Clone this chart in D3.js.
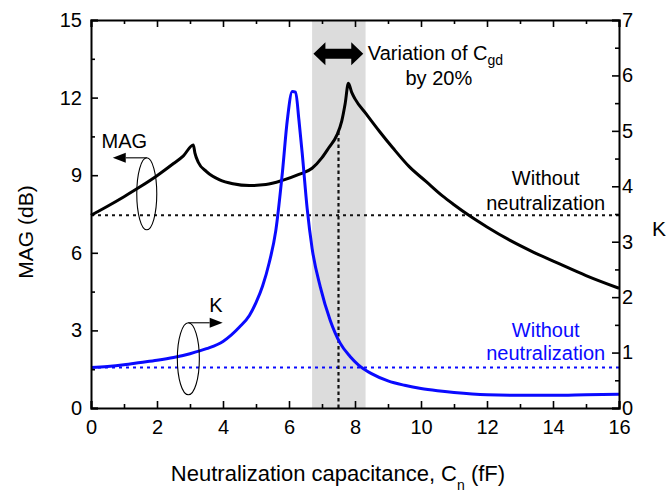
<!DOCTYPE html>
<html>
<head>
<meta charset="utf-8">
<script src="https://cdn.jsdelivr.net/npm/d3@7"></script>
<style>
  html, body { margin: 0; padding: 0; background: #fff; }
  svg { display: block; font-family: "Liberation Sans", Arial, sans-serif; }
</style>
</head>
<body>
<svg id="chart" width="666" height="493"></svg>
<script>
// Neutralization capacitance sweep (fF)
const cnMag = [0, 0.5, 1, 1.5, 2, 2.5, 2.8, 3.1, 3.15, 3.25, 3.5, 3.9, 4.3, 4.8, 5.3, 5.8, 6.3, 6.7, 7.0, 7.2, 7.45, 7.6, 7.7, 7.8,
               7.9, 8.0, 8.35, 8.75, 9.15, 9.65, 10.15, 10.65, 11.0, 11.45, 12.0, 12.7, 13.4, 14.2, 15.0, 16];
const magDb = [7.45, 7.8, 8.17, 8.56, 8.98, 9.45, 9.75, 10.17, 9.85, 9.5, 9.14, 8.82, 8.67, 8.6, 8.64, 8.8, 9.03, 9.27, 9.68, 10.05, 10.55, 11.1, 11.75, 12.55,
               12.2, 11.95, 11.35, 10.68, 10.05, 9.32, 8.76, 8.2, 7.86, 7.45, 7.0, 6.48, 6.03, 5.57, 5.12, 4.63];

const cnK = [0, 0.5, 1, 1.5, 2, 2.5, 3, 3.5, 4, 4.5, 4.8, 5.0, 5.2, 5.4, 5.6, 5.8, 5.95, 6.1, 6.2, 6.3, 6.4, 6.55, 6.7, 6.95,
             7.25, 7.55, 7.85, 8.1, 8.5, 9.0, 9.5, 10, 10.5, 11, 12, 13, 14, 15, 16];
const kFactor = [0.73, 0.75, 0.78, 0.82, 0.86, 0.91, 0.98, 1.07, 1.2, 1.46, 1.67, 1.9, 2.2, 2.62, 3.2, 4.25, 5.2, 5.71, 5.7, 5.2, 4.6, 3.6, 2.88, 2.18,
                 1.58, 1.17, 0.93, 0.78, 0.62, 0.49, 0.41, 0.35, 0.31, 0.28, 0.24, 0.23, 0.23, 0.24, 0.25];

// Reference levels without neutralization
const magWithout = 7.45;
const kWithout = 0.73;

// Cgd +/-20% range and the chosen Cn
const cgdBand = [6.7, 8.32];
const cnChosen = 7.5;

// Tick values
const xMajor = [0, 2, 4, 6, 8, 10, 12, 14, 16];
const xMinor = [1, 3, 5, 7, 9, 11, 13, 15];
const magMajor = [0, 3, 6, 9, 12, 15];
const magMinor = [1.5, 4.5, 7.5, 10.5, 13.5];
const kMajor = [0, 1, 2, 3, 4, 5, 6, 7];
const kMinor = [0.5, 1.5, 2.5, 3.5, 4.5, 5.5, 6.5];

const svg = d3.select("#chart");
const L = 91, R = 619, T = 20, B = 408;

const x = d3.scaleLinear().domain([0, 16]).range([L, R]);
const yMag = d3.scaleLinear().domain([0, 15]).range([B, T]);
const yK = d3.scaleLinear().domain([0, 7]).range([B, T]);

const blue = "#0a0aff";
const fontTick = 20;

// shaded Cgd variation band
svg.append("rect")
  .attr("x", x(cgdBand[0])).attr("y", T)
  .attr("width", x(cgdBand[1]) - x(cgdBand[0])).attr("height", B - T)
  .attr("fill", "#dcdcdc");

// reference dotted lines
svg.append("line")
  .attr("x1", x(0)).attr("x2", x(16))
  .attr("y1", yMag(magWithout)).attr("y2", yMag(magWithout))
  .attr("stroke", "#111").attr("stroke-width", 2).attr("stroke-dasharray", "3,4");
svg.append("line")
  .attr("x1", x(0)).attr("x2", x(16))
  .attr("y1", yK(kWithout)).attr("y2", yK(kWithout))
  .attr("stroke", blue).attr("stroke-width", 2).attr("stroke-dasharray", "3,4");

// vertical marker at the chosen Cn, up to the MAG curve
const magAtChosen = d3.scaleLinear().domain(cnMag).range(magDb)(cnChosen);
svg.append("line")
  .attr("x1", x(cnChosen)).attr("x2", x(cnChosen))
  .attr("y1", yK(0)).attr("y2", yMag(magAtChosen))
  .attr("stroke", "#111").attr("stroke-width", 2.2).attr("stroke-dasharray", "3.5,3");

// curves
const magLine = d3.line().x(d => x(d[0])).y(d => yMag(d[1])).curve(d3.curveMonotoneX);
const kLine = d3.line().x(d => x(d[0])).y(d => yK(d[1])).curve(d3.curveMonotoneX);

svg.append("path")
  .datum(d3.zip(cnMag, magDb))
  .attr("d", magLine)
  .attr("fill", "none").attr("stroke", "#000").attr("stroke-width", 3)
  .attr("stroke-linejoin", "round");

svg.append("path")
  .datum(d3.zip(cnK, kFactor))
  .attr("d", kLine)
  .attr("fill", "none").attr("stroke", blue).attr("stroke-width", 3)
  .attr("stroke-linejoin", "round");

// axes
function styleAxis(g) {
  g.selectAll("path.domain").attr("stroke", "#000").attr("stroke-width", 2);
  g.selectAll(".tick line").attr("stroke", "#000").attr("stroke-width", 1.6);
  g.selectAll("text").attr("fill", "#000").style("font-size", fontTick + "px")
    .style("font-family", "Liberation Sans, Arial, sans-serif");
}

const gBottom = svg.append("g").attr("transform", `translate(0,${B})`)
  .call(d3.axisBottom(x).tickValues(xMajor).tickSize(-7).tickPadding(12).tickFormat(d3.format("d")));
styleAxis(gBottom);
svg.append("g").attr("transform", `translate(0,${B})`)
  .call(d3.axisBottom(x).tickValues(xMinor).tickSize(-4).tickFormat(""))
  .call(styleAxis).select("path.domain").remove();

const gTop = svg.append("g").attr("transform", `translate(0,${T})`)
  .call(d3.axisTop(x).tickValues(xMajor).tickSize(-7).tickFormat(""));
styleAxis(gTop);
svg.append("g").attr("transform", `translate(0,${T})`)
  .call(d3.axisTop(x).tickValues(xMinor).tickSize(-4).tickFormat(""))
  .call(styleAxis).select("path.domain").remove();

const gLeft = svg.append("g").attr("transform", `translate(${L},0)`)
  .call(d3.axisLeft(yMag).tickValues(magMajor).tickSize(-7).tickPadding(9).tickFormat(d3.format("d")));
styleAxis(gLeft);
svg.append("g").attr("transform", `translate(${L},0)`)
  .call(d3.axisLeft(yMag).tickValues(magMinor).tickSize(-4).tickFormat(""))
  .call(styleAxis).select("path.domain").remove();

const gRight = svg.append("g").attr("transform", `translate(${R},0)`)
  .call(d3.axisRight(yK).tickValues(kMajor).tickSize(-7).tickPadding(3).tickFormat(d3.format("d")));
styleAxis(gRight);
svg.append("g").attr("transform", `translate(${R},0)`)
  .call(d3.axisRight(yK).tickValues(kMinor).tickSize(-4).tickFormat(""))
  .call(styleAxis).select("path.domain").remove();

// axis titles
const xTitle = svg.append("text")
  .attr("x", 338).attr("y", 481)
  .attr("text-anchor", "middle").style("font-size", "22px").attr("fill", "#000");
xTitle.append("tspan").text("Neutralization capacitance, C");
xTitle.append("tspan").attr("dy", 9).style("font-size", "14px").text("n");
xTitle.append("tspan").attr("dy", -9).text(" (fF)");

svg.append("text")
  .attr("transform", `translate(33,232) rotate(-90)`)
  .attr("text-anchor", "middle").style("font-size", "21px").attr("fill", "#000")
  .text("MAG (dB)");

svg.append("text")
  .attr("x", 652).attr("y", 236)
  .style("font-size", "21px").attr("fill", "#000")
  .text("K");

// double-headed arrow for the Cgd variation
const arrowY = yMag(13.7);
const ax0 = x(6.74), ax1 = x(8.25);
const headLen = 12, headHalf = 11.5, shaftHalf = 5;
svg.append("path")
  .attr("d", [
    "M", ax0, arrowY,
    "L", ax0 + headLen, arrowY - headHalf,
    "L", ax0 + headLen, arrowY - shaftHalf,
    "L", ax1 - headLen, arrowY - shaftHalf,
    "L", ax1 - headLen, arrowY - headHalf,
    "L", ax1, arrowY,
    "L", ax1 - headLen, arrowY + headHalf,
    "L", ax1 - headLen, arrowY + shaftHalf,
    "L", ax0 + headLen, arrowY + shaftHalf,
    "L", ax0 + headLen, arrowY + headHalf, "Z"].join(" "))
  .attr("fill", "#000");

const varText = svg.append("text")
  .attr("x", x(8.39)).attr("y", yMag(13.45))
  .style("font-size", "20px").attr("fill", "#000");
varText.append("tspan").text("Variation of C");
varText.append("tspan").attr("dy", 5).style("font-size", "14px").text("gd");
svg.append("text")
  .attr("x", x(10.54)).attr("y", yMag(12.49))
  .attr("text-anchor", "middle").style("font-size", "20px").attr("fill", "#000")
  .text("by 20%");

// "Without neutralization" labels
function twoLine(cx, yTop, yBot, color) {
  svg.append("text").attr("x", cx).attr("y", yTop).attr("text-anchor", "middle")
    .style("font-size", "20px").attr("fill", color).text("Without");
  svg.append("text").attr("x", cx).attr("y", yBot).attr("text-anchor", "middle")
    .style("font-size", "20px").attr("fill", color).text("neutralization");
}
twoLine(x(13.78), yMag(8.62), yMag(7.65), "#000");
twoLine(x(13.78), yK(1.275), yK(0.866), blue);

// axis-assignment markers: ellipse with an arrow toward its axis
function axisMarker(cx, cy, rx, ry, tipX, label, labelX, labelY) {
  svg.append("ellipse")
    .attr("cx", cx).attr("cy", cy).attr("rx", rx).attr("ry", ry)
    .attr("fill", "none").attr("stroke", "#000").attr("stroke-width", 1.1);
  const topY = cy - ry;
  const dir = Math.sign(tipX - cx);
  const hl = 13, hh = 5;
  svg.append("line")
    .attr("x1", cx).attr("y1", topY).attr("x2", tipX - dir * hl).attr("y2", topY)
    .attr("stroke", "#000").attr("stroke-width", 1.1);
  svg.append("path")
    .attr("d", `M${tipX},${topY} L${tipX - dir * hl},${topY - hh} L${tipX - dir * hl},${topY + hh} Z`)
    .attr("fill", "#000");
  svg.append("text").attr("x", labelX).attr("y", labelY)
    .style("font-size", "20px").attr("fill", "#000").text(label);
}
axisMarker(x(1.69), yMag(8.28), 10, 36, x(0.66), "MAG", x(0.32), yMag(10.04));
axisMarker(x(2.95), yK(0.888), 11, 36, x(3.99), "K", x(3.58), yK(1.737));
</script>
</body>
</html>
